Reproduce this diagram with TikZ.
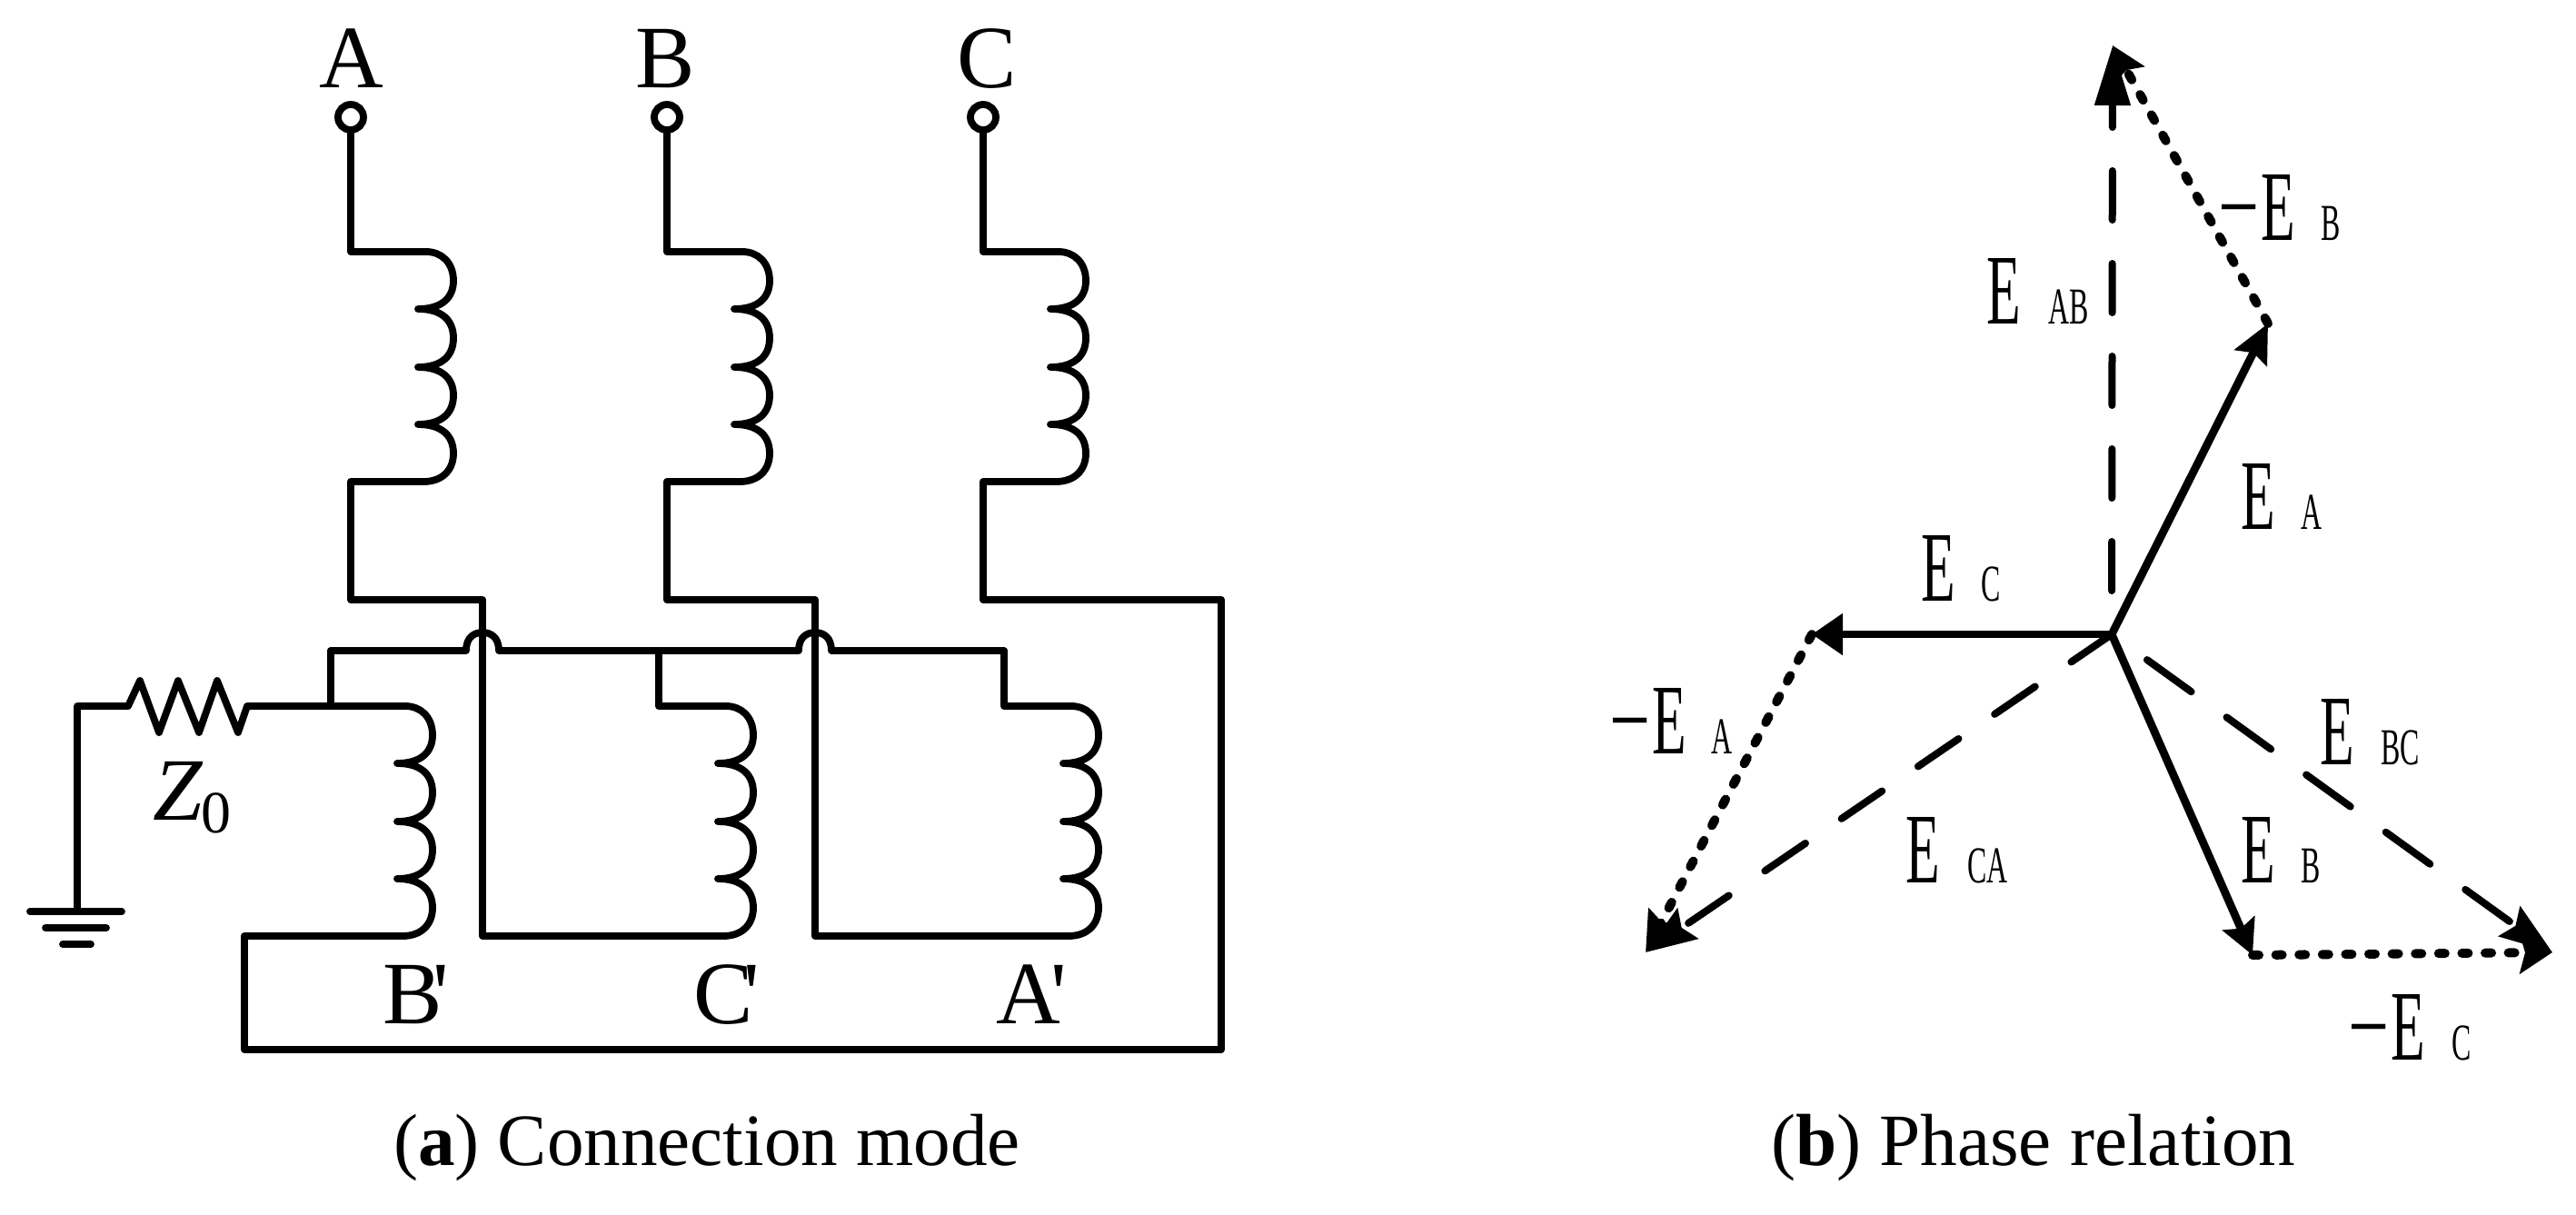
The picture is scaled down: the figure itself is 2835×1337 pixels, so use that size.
\documentclass[tikz,border=0pt]{standalone}
\usepackage{fontspec}
\setmainfont{Liberation Serif}
\newfontfamily\plainserif{Liberation Serif}
\usetikzlibrary{arrows.meta}
\newcommand{\sizeLetter}{\fontsize{49}{52}\selectfont}
\newcommand{\sizeCap}{\fontsize{40.6}{44}\selectfont}
\newcommand{\sizeE}{\fontsize{55}{58}\selectfont}
\newcommand{\sizeSub}{\fontsize{28.5}{30}\selectfont}
\newcommand{\narrowtext}[1]{\scalebox{.56}[1]{#1}}
\newcommand{\minusE}{\scalebox{1.3}[1]{−}\hspace{.03em}E}
\newcommand{\primed}[1]{#1\hspace{-.1em}{\plainserif '}}
\tikzset{
  x=0.5pt,y=-0.5pt,
  wire/.style={line width=3.9pt,line cap=round,line join=round},
  lab/.style={anchor=base west,inner sep=0pt,outer sep=0pt,font=\sizeLetter},
  labc/.style={anchor=base,inner sep=0pt,outer sep=0pt,font=\sizeLetter},
  caption/.style={anchor=base west,inner sep=0pt,outer sep=0pt,font=\sizeCap},
  elab/.style={anchor=base west,inner sep=0pt,outer sep=0pt,font=\sizeE},
  slab/.style={anchor=base west,inner sep=0pt,outer sep=0pt,font=\sizeSub},
  term/.style={circle,draw,line width=3.9pt,minimum size=14pt,inner sep=0pt,fill=white},
  vec/.style={line width=4.4pt},
  dashv/.style={line width=4pt,line cap=round,dash pattern=on 27pt off 24pt},
  dotv/.style={line width=5pt,line cap=round,dash pattern=on 3.5pt off 9.3pt},
  coil/.pic={
    \draw[wire] (0,0) .. controls (17,0) and (30,12) .. (30,32)
      .. controls (30,50) and (18,63) .. (-9,63)
      .. controls (18,63) and (30,76) .. (30,95)
      .. controls (30,114) and (18,127) .. (-9,127)
      .. controls (18,127) and (30,140) .. (30,158)
      .. controls (30,177) and (18,190) .. (-9,190)
      .. controls (18,190) and (30,203) .. (30,222)
      .. controls (30,240) and (18,253) .. (-3,253);
  }
}
\begin{document}
\begin{tikzpicture}
\useasboundingbox (0,0) rectangle (2835,1337);

% ---- (a) connection mode ----
\node[labc] (lA) at (387,97) {A};
\node[labc] (lB) at (732,97) {B};
\node[labc] (lC) at (1086,97) {C};
\node[term] (tA) at (386,129) {};
\node[term] (tB) at (734,129) {};
\node[term] (tC) at (1082,129) {};

\coordinate (Ain) at (469,277); \coordinate (Aout) at (466,530);
\coordinate (Bin) at (817,277); \coordinate (Bout) at (814,530);
\coordinate (Cin) at (1165,277); \coordinate (Cout) at (1162,530);
\coordinate (Bpin) at (446,777); \coordinate (Bpout) at (443,1030);
\coordinate (Cpin) at (799,777); \coordinate (Cpout) at (796,1030);
\coordinate (Apin) at (1179,777); \coordinate (Apout) at (1176,1030);

\pic at (Ain) {coil}; \pic at (Bin) {coil}; \pic at (Cin) {coil};
\pic at (Bpin) {coil}; \pic at (Cpin) {coil}; \pic at (Apin) {coil};

\coordinate (Ajog) at (386,660); \coordinate (Ax) at (531,660);
\coordinate (Bjog) at (734,660); \coordinate (Bx) at (897,660);
\coordinate (Cjog) at (1082,660); \coordinate (Cx) at (1344,660);
\coordinate (botR) at (1344,1155); \coordinate (botL) at (269,1155);

\draw[wire] (tA) |- (Ain);
\draw[wire] (tB) |- (Bin);
\draw[wire] (tC) |- (Cin);
\draw[wire] (Aout) -| (Ajog) -- (Ax) |- (Cpout);
\draw[wire] (Bout) -| (Bjog) -- (Bx) |- (Apout);
\draw[wire] (Cout) -| (Cjog) -- (Cx) -- (botR) -- (botL) |- (Bpout);

% bus with the two hops
\coordinate (busL) at (364,716);
\coordinate (busM) at (725,716);
\coordinate (busR) at (1105,716);
\draw[wire] (busL) -- (513,716) .. controls (513,701) and (522,696) .. (531,696)
  .. controls (540,696) and (549,701) .. (549,716)
  -- (879,716) .. controls (879,701) and (888,696) .. (897,696)
  .. controls (906,696) and (915,701) .. (915,716) -- (busR);
\draw[wire] (busL) |- (Bpin);
\draw[wire] (busM) |- (Cpin);
\draw[wire] (busR) |- (Apin);

% resistor and earth
\coordinate (earth) at (85,1003);
\coordinate (rl) at (141,777);
\coordinate (rr) at (272,777);
\draw[wire] (earth) |- (rl) -- ++(13,-28) -- ++(21,57) -- ++(21,-57) -- ++(23,57) -- ++(20,-57) -- ++(23,57) -- (rr) -- (Bpin);
\coordinate (g1l) at (33,1003); \coordinate (g1r) at (134,1003);
\coordinate (g2l) at (50,1021); \coordinate (g2r) at (117,1021);
\coordinate (g3l) at (69,1039); \coordinate (g3r) at (100,1039);
\draw[wire] (g1l) -- (g1r);
\draw[wire] (g2l) -- (g2r);
\draw[wire] (g3l) -- (g3r);

\node[lab] (lZ) at (168,902) {\itshape Z};
\node[lab,font=\fontsize{33}{35}\selectfont] (lZ0) at (221,916) {0};
\node[lab] (lBp) at (421,1126) {\primed{B}};
\node[lab] (lCp) at (763,1126) {\primed{C}};
\node[lab] (lAp) at (1096,1126) {\primed{A}};
\node[caption] (capa) at (433,1282) {(\textbf{a}) Connection mode};

% ---- (b) phase relation ----
\coordinate (O) at (2324,698);
\coordinate (TA) at (2496,356);
\coordinate (TB) at (2479,1051);
\coordinate (TC) at (1994,698);
\coordinate (TAB) at (2325,50);
\coordinate (TBC) at (2809,1048);
\coordinate (TCA) at (1811,1048);

\draw[dashv,dash phase=27pt,-{Stealth[length=33pt,width=19pt,inset=0pt]}] (O) -- (TAB);
\draw[dashv,dash pattern=on 30pt off 24pt,dash phase=30pt,-{Stealth[length=29pt,width=20pt,inset=4pt]}] (O) -- (TBC);
\draw[dashv,-{Stealth[length=28pt,width=20pt,inset=4pt]}] (O) -- (TCA);
\draw[vec,-{Stealth[length=21pt,width=19.5pt,inset=3pt]}] (O) -- (TA);
\draw[vec,-{Stealth[length=19pt,width=19pt,inset=3pt]}] (O) -- (TB);
\draw[vec,-{Stealth[length=17pt,width=22pt,inset=0pt]}] (O) -- (TC);
\draw[dotv,-{Stealth[length=18.5pt,width=19pt,inset=3pt]}] (TA) -- (TAB);
\draw[dotv,-{Stealth[length=22pt,width=19pt,inset=3pt]}] (TC) -- (TCA);
\draw[dotv,-{Stealth[length=18pt,width=23pt,inset=3pt]}] (TB) -- (TBC);

\node[elab] (eAB) at (2186,356) {\narrowtext{E}};
\node[slab] (sAB) at (2254,356) {\narrowtext{AB}};
\node[elab] (eB2) at (2441,264) {\narrowtext{\minusE}};
\node[slab] (sB2) at (2554,264) {\narrowtext{B}};
\node[elab] (eA) at (2466,582) {\narrowtext{E}};
\node[slab] (sA) at (2532,582) {\narrowtext{A}};
\node[elab] (eC) at (2114,661) {\narrowtext{E}};
\node[slab] (sC) at (2180,661) {\narrowtext{C}};
\node[elab] (eA2) at (1771,829) {\narrowtext{\minusE}};
\node[slab] (sA2) at (1883,829) {\narrowtext{A}};
\node[elab] (eBC) at (2553,841) {\narrowtext{E}};
\node[slab] (sBC) at (2620,841) {\narrowtext{BC}};
\node[elab] (eCA) at (2097,971) {\narrowtext{E}};
\node[slab] (sCA) at (2165,971) {\narrowtext{CA}};
\node[elab] (eB) at (2466,971) {\narrowtext{E}};
\node[slab] (sB) at (2532,971) {\narrowtext{B}};
\node[elab] (eC2) at (2584,1166) {\narrowtext{\minusE}};
\node[slab] (sC2) at (2698,1166) {\narrowtext{C}};
\node[caption] (capb) at (1949,1282) {(\textbf{b}) Phase relation};
\end{tikzpicture}
\end{document}
